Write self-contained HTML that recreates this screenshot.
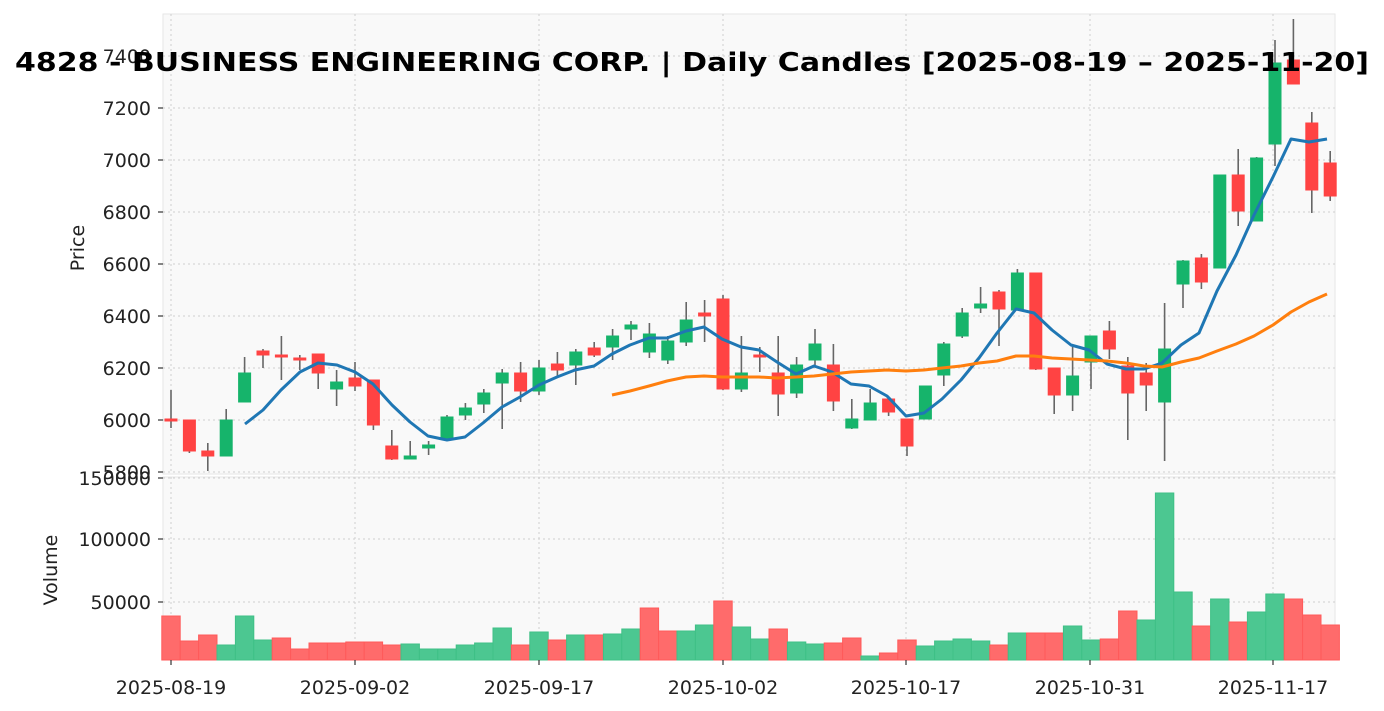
<!DOCTYPE html>
<html><head><meta charset="utf-8"><style>
html,body{margin:0;padding:0;background:#fff;}
svg{display:block;font-family:"DejaVu Sans","Liberation Sans",sans-serif;}
</style></head><body>
<svg id="s" width="1384" height="711" viewBox="0 0 1384 711" xmlns="http://www.w3.org/2000/svg">
<rect x="163" y="14" width="1172" height="460" fill="#f9f9f9" stroke="#e6e6e6" stroke-width="1"/>
<rect x="163" y="477" width="1172" height="183" fill="#f9f9f9" stroke="#e6e6e6" stroke-width="1"/>
<g id="grid" stroke="#cfcfcf" stroke-width="1" stroke-dasharray="2,3"></g>
<g id="vol"></g>
<g id="cand"></g>
<polyline id="ma1" fill="none" stroke="#1f77b4" stroke-width="3" stroke-linejoin="round"/>
<polyline id="ma2" fill="none" stroke="#ff7f0e" stroke-width="3" stroke-linejoin="round"/>
<g id="ticks" stroke="#333" stroke-width="1.2"></g>
<g font-size="19" fill="#222" text-anchor="end">
<text x="151" y="63">7400</text>
<text x="151" y="115">7200</text>
<text x="151" y="167">7000</text>
<text x="151" y="219">6800</text>
<text x="151" y="271">6600</text>
<text x="151" y="323">6400</text>
<text x="151" y="375">6200</text>
<text x="151" y="427">6000</text>
<text x="151" y="479">5800</text>
<text x="151" y="485">150000</text>
<text x="151" y="546">100000</text>
<text x="151" y="609">50000</text>
</g>
<g font-size="19" fill="#222" text-anchor="middle">
<text x="171" y="694">2025-08-19</text>
<text x="355" y="694">2025-09-02</text>
<text x="539" y="694">2025-09-17</text>
<text x="723" y="694">2025-10-02</text>
<text x="906" y="694">2025-10-17</text>
<text x="1090" y="694">2025-10-31</text>
<text x="1273" y="694">2025-11-17</text>
</g>
<text x="84" y="248" font-size="19" fill="#222" text-anchor="middle" transform="rotate(-90 84 248)">Price</text>
<text x="57" y="570" font-size="19" fill="#222" text-anchor="middle" transform="rotate(-90 57 570)">Volume</text>
<text x="692" y="71" font-size="26" font-weight="bold" fill="#000" text-anchor="middle" textLength="1354" lengthAdjust="spacingAndGlyphs">4828 - BUSINESS ENGINEERING CORP. | Daily Candles [2025-08-19 – 2025-11-20]</text>
</svg>
<script>
var NS="http://www.w3.org/2000/svg";
function el(p,t,a){var e=document.createElementNS(NS,t);for(var k in a)e.setAttribute(k,a[k]);document.getElementById(p).appendChild(e);return e;}
var xs=[171,355,539,723,906,1090,1273];
xs.forEach(function(x){el("grid","line",{x1:x,x2:x,y1:14,y2:474});el("grid","line",{x1:x,x2:x,y1:477,y2:660});el("ticks","line",{x1:x,x2:x,y1:660,y2:665});});
[56,108,160,212,264,316,368,420,472].forEach(function(y){el("grid","line",{x1:163,x2:1335,y1:y,y2:y});el("ticks","line",{x1:158,x2:163,y1:y,y2:y});});
[478,539,602].forEach(function(y){el("grid","line",{x1:163,x2:1335,y1:y,y2:y});el("ticks","line",{x1:158,x2:163,y1:y,y2:y});});
var C=[[419,421,390,428,'r'],[420,451,420,453,'r'],[451,456,443,471,'r'],[420,456,409,456,'g'],[373,402,357,402,'g'],[351,355,349,368,'r'],[355,357,336,380,'r'],[358,360,355,370,'r'],[354,373,354,389,'r'],[382,389,370,406,'g'],[378,386,362,391,'r'],[380,425,380,430,'r'],[446,459,430,460,'r'],[456,459,441,459,'g'],[445,448,441,455,'g'],[417,439,415,441,'g'],[408,415,403,420,'g'],[393,404,389,413,'g'],[373,383,369,429,'g'],[373,391,362,402,'r'],[368,391,360,395,'g'],[364,370,352,376,'r'],[352,365,349,385,'g'],[348,355,342,357,'r'],[336,347,329,360,'g'],[325,329,321,340,'g'],[334,352,323,358,'g'],[341,360,336,364,'g'],[320,342,302,346,'g'],[313,316,300,342,'r'],[299,389,295,390,'r'],[373,389,336,392,'g'],[355,357,347,372,'r'],[373,394,336,416,'r'],[365,393,357,398,'g'],[344,360,329,365,'g'],[365,401,344,411,'r'],[419,428,399,429,'g'],[403,420,389,420,'g'],[399,412,398,416,'r'],[419,446,419,456,'r'],[386,419,386,419,'g'],[344,375,342,386,'g'],[313,336,308,338,'g'],[304,308,287,313,'g'],[292,309,290,346,'r'],[273,310,269,310,'g'],[273,369,273,370,'r'],[368,395,368,414,'r'],[376,395,347,411,'g'],[336,362,336,389,'g'],[331,349,321,359,'r'],[366,393,357,440,'r'],[373,385,363,411,'r'],[349,402,303,461,'g'],[261,284,260,308,'g'],[258,282,254,289,'r'],[175,268,175,268,'g'],[175,211,149,226,'r'],[158,221,157,221,'g'],[63,144,40,166,'g'],[60,84,19,84,'r'],[123,190,112,213,'r'],[163,196,151,201,'r']];
var V=[[616,'r'],[641,'r'],[635,'r'],[645,'g'],[616,'g'],[640,'g'],[638,'r'],[649,'r'],[643,'r'],[643,'r'],[642,'r'],[642,'r'],[645,'r'],[644,'g'],[649,'g'],[649,'g'],[645,'g'],[643,'g'],[628,'g'],[645,'r'],[632,'g'],[640,'r'],[635,'g'],[635,'r'],[634,'g'],[629,'g'],[608,'r'],[631,'r'],[631,'g'],[625,'g'],[601,'r'],[627,'g'],[639,'g'],[629,'r'],[642,'g'],[644,'g'],[643,'r'],[638,'r'],[656,'g'],[653,'r'],[640,'r'],[646,'g'],[641,'g'],[639,'g'],[641,'g'],[645,'r'],[633,'g'],[633,'r'],[633,'r'],[626,'g'],[640,'g'],[639,'r'],[611,'r'],[620,'g'],[493,'g'],[592,'g'],[626,'r'],[599,'g'],[622,'r'],[612,'g'],[594,'g'],[599,'r'],[615,'r'],[625,'r']];
function X(i){return 171+18.4*i;}
V.forEach(function(v,i){var x=X(i);el("vol","rect",{x:x-9.2,y:v[0],width:18.4,height:660-v[0],fill:v[1]=='r'?'#ff6b6b':'#4cc791',stroke:v[1]=='r'?'#ff5a5a':'#3fc086','stroke-width':1});});
C.forEach(function(c,i){var x=X(i);var col=c[4]=='r'?'#ff4343':'#16b46b';
el("cand","line",{x1:x,x2:x,y1:c[2],y2:c[3],stroke:'#666','stroke-width':1.6});
var h=Math.max(c[1]-c[0],2);el("cand","rect",{x:x-6,y:c[0],width:12,height:h,fill:col,stroke:col,'stroke-width':1});});
var m1=[[245,424],[263,410],[281,390],[300,372],[318,363],[337,365],[355,372],[373,384],[392,405],[410,422],[428,436],[447,440],[465,437],[483,423],[502,407],[520,397],[539,385],[557,377],[575,370],[594,366],[612,354],[630,345],[649,338],[667,338],[686,331],[704,327],[722,339],[741,347],[759,350],[777,362],[796,374],[814,366],[832,372],[851,384],[869,386],[887,396],[906,416],[924,413],[942,399],[961,380],[979,358],[997,333],[1016,309],[1034,313],[1052,330],[1071,345],[1089,350],[1107,364],[1126,369],[1144,369],[1162,363],[1181,345],[1199,333],[1217,291],[1236,255],[1254,215],[1273,177],[1291,139],[1309,142],[1327,139]];
var m2=[[612,395],[630,391],[649,386],[667,381],[686,377],[704,376],[722,377],[741,377],[759,377],[777,378],[796,377],[814,376],[832,374],[851,372],[869,371],[887,370],[906,371],[924,370],[942,368],[961,366],[979,363],[997,361],[1016,356],[1034,356],[1052,358],[1071,359],[1089,360],[1107,361],[1126,363],[1144,366],[1162,367],[1181,362],[1199,358],[1217,351],[1236,344],[1254,336],[1273,325],[1291,312],[1309,302],[1327,294]];
document.getElementById("ma1").setAttribute("points",m1.map(function(p){return p.join(",");}).join(" "));
document.getElementById("ma2").setAttribute("points",m2.map(function(p){return p.join(",");}).join(" "));
</script>
</body></html>
